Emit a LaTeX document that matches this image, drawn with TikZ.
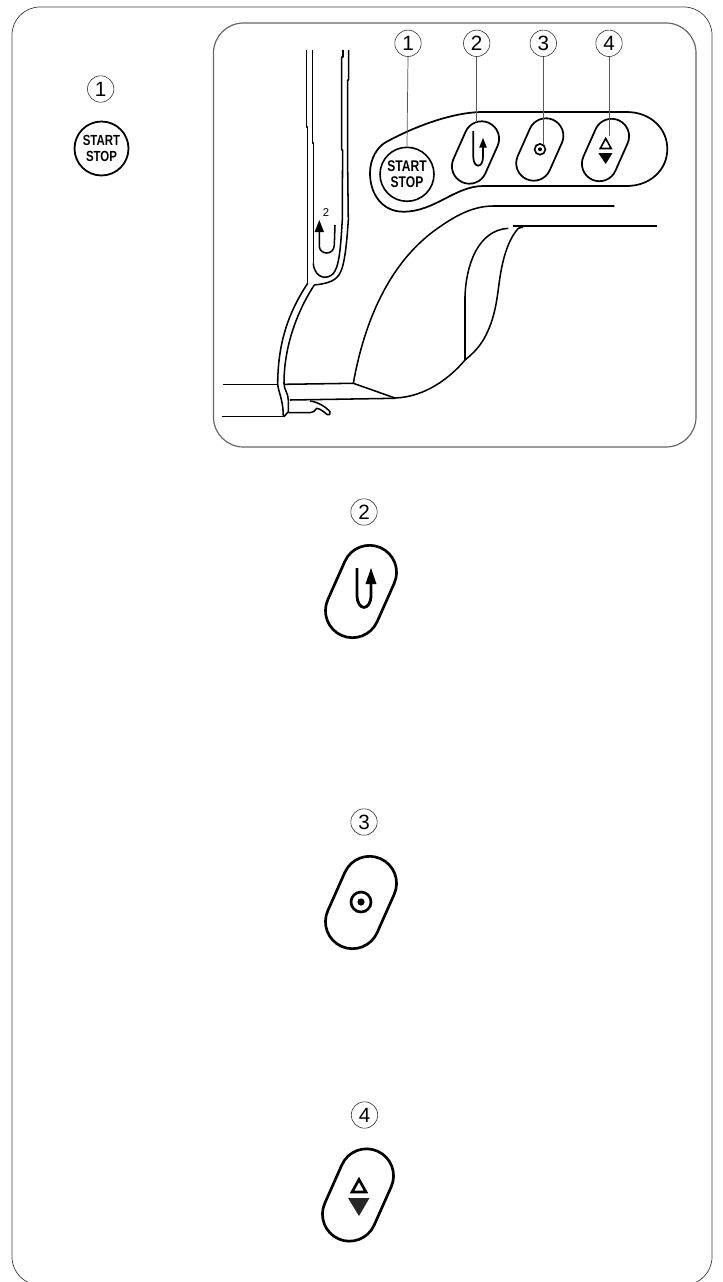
\documentclass[tikz,border=0pt]{standalone}
\usepackage{fontspec}
\newfontfamily\numfont{Liberation Sans}
\newfontfamily\btnfont[FakeStretch=0.78]{Liberation Sans Bold}
\newcommand{\pillat}[5]{%
  \begin{scope}[shift={(#1,#2)},rotate=66]
    \pgfmathsetmacro{\halfw}{#4/2+#3}
    \draw[#5,rounded corners=#3*0.75pt] (-\halfw,-#3) rectangle (\halfw,#3);
  \end{scope}}
\tikzset{
  frameline/.style={draw=black!75,line width=0.55pt},
  panelline/.style={draw=black!60,line width=0.9pt},
  armline/.style={draw=black,line width=1.15pt,line join=round},
  armthick/.style={draw=black,line width=1.7pt},
  bigpill/.style={draw=black,line width=2pt},
  smallpill/.style={draw=black,line width=1.3pt},
  numcircle/.style={circle,draw=black!80,line width=0.45pt,minimum size=19.8pt,inner sep=0pt,font=\numfont\fontsize{15.5}{15.5}\selectfont},
  startbtn/.style={circle,draw=black,minimum size=40.5pt,inner sep=0pt,align=center},
  leader/.style={draw=black!65,line width=0.55pt},
  ubig/.style={draw=black,line width=2.1pt},
  usmall/.style={draw=black,line width=1.3pt}
}
\begin{document}
\begin{tikzpicture}[x=0.75pt,y=-0.75pt]
\useasboundingbox (0,0) rectangle (723,1282);
\clip (0,0) rectangle (723,1282);
% frames
\draw[frameline,rounded corners=21pt] (12,7) rectangle (712,1285);
\draw[panelline,rounded corners=22.5pt] (213.5,23) rectangle (696,447);
% top-left key
\node[numcircle] (k1) at (100.7,89) {1};
\node[startbtn,line width=1.35pt,font=\btnfont\fontsize{11}{12}\selectfont] (kstart) at (101.5,148.5) {START\\STOP};
% arm column
\draw[armline] (306.3,50) -- (306.3,127) -- (307.7,127) -- (307.7,283.3);
\draw[armline] (312.3,50) -- (312.3,143) -- (313.3,143) -- (313.3,263.3);
\draw[armline] (343,50) -- (343,57) -- (341.7,57) -- (341.7,150) -- (342.6,150) -- (342.3,220);
\draw[armline] (348.7,50) -- (348.7,80) -- (347.7,80) -- (347.7,170) -- (348.3,220);
\draw[armline] (342.3,220) .. controls (341,240) and (340,262) .. (335,271) .. controls (331,279) and (319,280) .. (315,270) .. controls (314,268) and (313.3,266) .. (313.3,263.3);
\draw[armline] (348.3,220) .. controls (347,240) and (345,262) .. (341,271) .. controls (337,281) and (328,283.5) .. (314.3,285);
\draw[armline] (307.7,283.3) .. controls (290,310) and (278,340) .. (277.7,383.3) .. controls (278,392) and (283,398) .. (283.3,416);
\draw[armline] (314.3,285) .. controls (298,310) and (284,345) .. (284,383.3) .. controls (284,390) and (288.3,393) .. (288.3,400) -- (288.3,411.7) -- (284,416.7);
% small U on the column
\draw[armline] (319.3,230) -- (319.3,246) .. controls (319.3,255) and (334,256) .. (334.3,245) -- (335,225);
\fill (319.3,220) -- (324,232) -- (314.6,232) -- cycle;
\node[font=\numfont\fontsize{8.5}{8.5}\selectfont,inner sep=0pt] (armtwo) at (326,213) {2};
% base
\draw[armline] (223.3,384.3) -- (278.3,384.3);
\draw[armline] (285,384.3) -- (353.3,383.3);
\draw[armline] (221.7,416.7) -- (284,416.7);
\draw[armline] (290,400) -- (395,398.3);
\draw[armline] (310,401) .. controls (318,402) and (326,407) .. (330,411.7) .. controls (331,414) and (329,416) .. (327,414.5) .. controls (324,412) and (321,409) .. (316.7,408.3) .. controls (315,411) and (313,412.7) .. (310,412.7) -- (288.3,412.7);
% arm body
\draw[armline] (353.3,383.3) .. controls (362,335) and (383,265) .. (440,226.7) .. controls (458,214) and (475,206) .. (493.3,206) -- (614.3,206);
\draw[armline] (353.3,383.3) -- (395,398);
\draw[armline] (465,360) -- (465,296.7) .. controls (466,265) and (478,230) .. (508.3,228.3);
\draw[armthick] (513.3,225.7) -- (656.7,225.7);
\draw[armline] (523,227) -- (518.3,228.3) .. controls (508,240) and (503,258) .. (500,277) .. controls (497,297) and (496,318) .. (483.3,340) .. controls (477,350) and (471,355) .. (465,360) .. controls (450,378) and (425,397) .. (395,398);
% console
\draw[armline,line width=1.3pt] (483.3,112) -- (626.7,112)
  .. controls (650,112) and (667.3,128) .. (667.3,149)
  .. controls (667.3,170) and (650,186) .. (626.7,186)
  -- (483.3,186)
  .. controls (455,186) and (435,211.7) .. (403.3,211.7)
  .. controls (383,211.7) and (370,195) .. (370,173)
  .. controls (370,158) and (378,146) .. (386.7,141.7)
  .. controls (410,129) and (450,112) .. (483.3,112);
% panel key
\node[numcircle] (p1) at (408,43.3) {1};
\node[numcircle] (p2) at (476.7,43.3) {2};
\node[numcircle] (p3) at (543.3,43.3) {3};
\node[numcircle] (p4) at (609,43.3) {4};
\node[startbtn,line width=1.2pt,font=\btnfont\fontsize{11.6}{12}\selectfont] (pstart) at (407,174.3) {START\\STOP};
\pillat{475.5}{152.5}{17.5}{30}{smallpill}
\pillat{539.8}{149.5}{17.5}{30}{smallpill}
\pillat{605.5}{150}{17.5}{30}{smallpill}
\coordinate (t2) at (476.7,122);
\coordinate (t3) at (543.3,144);
\coordinate (t4) at (609,136);
\draw[leader] (p1.south) -- (pstart.north);
\draw[leader] (p2.south) -- (t2);
\draw[leader] (p3.south) -- (t3);
\draw[leader] (p4.south) -- (t4);
% panel icons
\draw[usmall] (473.3,131) -- (473.3,157) .. controls (473.3,168.5) and (483,168.5) .. (483,157) -- (483,146);
\fill (483,138) -- (486.8,147.5) -- (479.2,147.5) -- cycle;
\draw[black,line width=1.25pt] (540,149.3) circle[radius=5.4];
\fill (540,149.3) circle[radius=2];
\draw[black,line width=1.2pt,line join=miter] (605.7,138.5) -- (611.2,148.5) -- (600.2,148.5) -- cycle;
\fill (598.3,153) -- (612.5,153) -- (605.7,164) -- cycle;
% large button 2
\node[numcircle] (b2) at (364,512) {2};
\pillat{361}{591.5}{27}{42}{bigpill}
\draw[ubig] (357,568) -- (357,595) .. controls (357,611.5) and (371,611.5) .. (371,595) -- (371,580);
\fill (371,568) -- (376.5,584) -- (365.5,584) -- cycle;
% large button 3
\node[numcircle] (b3) at (364,822) {3};
\pillat{361}{902.5}{27}{42}{bigpill}
\draw[black,line width=2pt] (361,902) circle[radius=10];
\fill (361,902) circle[radius=3.6];
% large button 4
\node[numcircle] (b4) at (364.5,1115) {4};
\pillat{358}{1195}{27}{42}{bigpill}
\draw[black,line width=2pt,line join=miter] (359,1179.5) -- (366,1192) -- (352,1192) -- cycle;
\fill[black!85] (348,1198) -- (369.5,1198) -- (359,1216) -- cycle;
\end{tikzpicture}
\end{document}
